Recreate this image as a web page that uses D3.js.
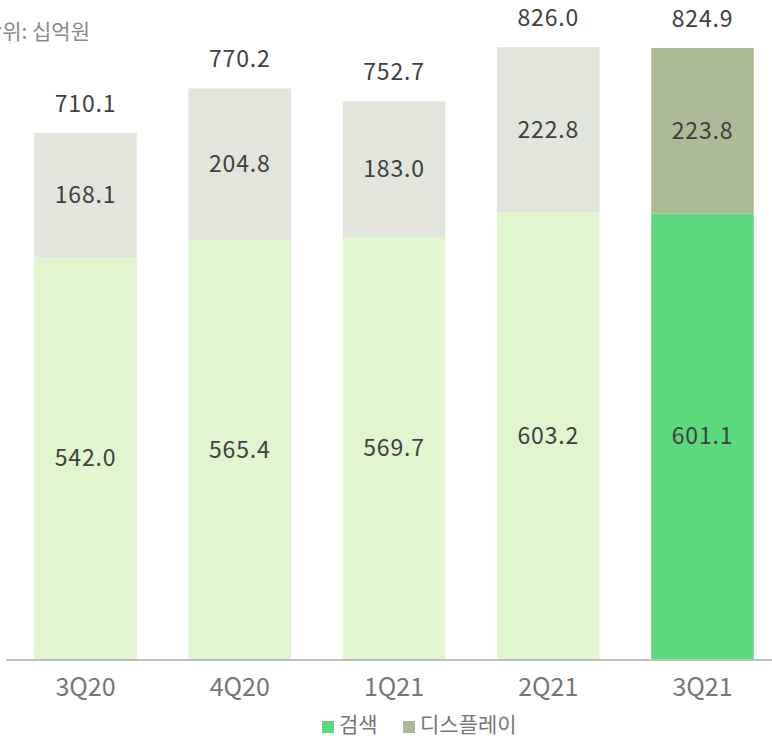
<!DOCTYPE html>
<html>
<head>
<meta charset="utf-8">
<script src="https://cdn.jsdelivr.net/npm/d3@7"></script>
<style>
  body { margin: 0; background: #fff; }
  svg { display: block; font-family: "Noto Sans CJK KR", "Noto Sans", sans-serif; }
</style>
</head>
<body>
<svg id="drawing_region"></svg>
<script>
const quarters = [ '3Q20', '4Q20', '1Q21', '2Q21', '3Q21' ];
const search = [ 542.0, 565.4, 569.7, 603.2, 601.1 ];
const display = [ 168.1, 204.8, 183.0, 222.8, 223.8 ];
const totals = [ 710.1, 770.2, 752.7, 826.0, 824.9 ];
const legendNames = [ '검색', '디스플레이' ];

const width = 772, height = 739;
const baseY = 659;

const svg = d3.select( '#drawing_region' )
    .attr( 'width', width )
    .attr( 'height', height );

const x = d3.scaleBand()
    .domain( quarters )
    .range( [ 8, 780 ] )
    .paddingInner( 0.335 )
    .paddingOuter( 0.17 );

const y = d3.scaleLinear()
    .domain( [ 0, 889.6 ] )
    .range( [ baseY, 0 ] );

const data = quarters.map( ( q, i ) => ( { q: q, search: search[i], display: display[i], total: totals[i], last: i === quarters.length - 1 } ) );

// bars
const g = svg.append( 'g' );
g.selectAll( '.search' )
    .data( data )
    .enter()
    .append( 'rect' )
    .attr( 'x', d => x( d.q ) )
    .attr( 'width', x.bandwidth() )
    .attr( 'y', d => y( d.search ) )
    .attr( 'height', d => baseY - y( d.search ) )
    .attr( 'fill', d => d.last ? '#5cd97d' : '#e1f5cf' );

g.selectAll( '.display' )
    .data( data )
    .enter()
    .append( 'rect' )
    .attr( 'x', d => x( d.q ) )
    .attr( 'width', x.bandwidth() )
    .attr( 'y', d => y( d.search + d.display ) )
    .attr( 'height', d => y( d.search ) - y( d.search + d.display ) )
    .attr( 'fill', d => d.last ? '#adba97' : '#e2e5dc' );

// value labels
const lab = svg.append( 'g' )
    .attr( 'font-size', 23 )
    .attr( 'letter-spacing', 0.8 )
    .attr( 'fill', '#404040' )
    .attr( 'text-anchor', 'middle' );

lab.selectAll( '.sl' )
    .data( data )
    .enter()
    .append( 'text' )
    .attr( 'x', d => x( d.q ) + x.bandwidth() / 2 )
    .attr( 'y', d => ( y( 0 ) + y( d.search ) ) / 2 )
    .attr( 'dy', '0.35em' )
    .text( d => d.search.toFixed( 1 ) );

lab.selectAll( '.dl' )
    .data( data )
    .enter()
    .append( 'text' )
    .attr( 'x', d => x( d.q ) + x.bandwidth() / 2 )
    .attr( 'y', d => ( y( d.search ) + y( d.search + d.display ) ) / 2 )
    .attr( 'dy', '0.35em' )
    .text( d => d.display.toFixed( 1 ) );

lab.selectAll( '.tl' )
    .data( data )
    .enter()
    .append( 'text' )
    .attr( 'x', d => x( d.q ) + x.bandwidth() / 2 )
    .attr( 'y', d => y( d.total ) - 29 )
    .attr( 'dy', '0.35em' )
    .text( d => d.total.toFixed( 1 ) );

// x axis
const axis = svg.append( 'g' )
    .attr( 'transform', `translate(0, ${baseY})` )
    .call( d3.axisBottom( x ).tickSize( 0 ).tickPadding( 19 ) );
axis.select( '.domain' ).remove();
axis.append( 'line' )
    .attr( 'x1', 6 ).attr( 'x2', width )
    .attr( 'y1', 1 ).attr( 'y2', 1 )
    .attr( 'stroke', '#bfbfbf' )
    .attr( 'stroke-width', 2 );
axis.selectAll( 'text' )
    .attr( 'font-family', '"Noto Sans CJK KR", "Noto Sans", sans-serif' )
    .attr( 'font-size', 25 )
    .attr( 'fill', '#767676' );

// unit label (clipped at left edge, as in the source)
svg.append( 'text' )
    .attr( 'x', 90 )
    .attr( 'y', 32 )
    .attr( 'dy', '0.35em' )
    .attr( 'text-anchor', 'end' )
    .attr( 'font-size', 21 )
    .attr( 'fill', '#8a8a8a' )
    .text( '단위: 십억원' );

// legend
const legendColors = [ '#5cd97d', '#adba97' ];
const legendX = [ 322, 403 ];
const leg = svg.append( 'g' );
leg.selectAll( 'rect' )
    .data( legendNames )
    .enter()
    .append( 'rect' )
    .attr( 'x', ( d, i ) => legendX[i] )
    .attr( 'y', 721 )
    .attr( 'width', 12 )
    .attr( 'height', 12 )
    .attr( 'fill', ( d, i ) => legendColors[i] );
leg.selectAll( 'text' )
    .data( legendNames )
    .enter()
    .append( 'text' )
    .attr( 'x', ( d, i ) => legendX[i] + 17 )
    .attr( 'y', 725 )
    .attr( 'dy', '0.35em' )
    .attr( 'font-size', 21 )
    .attr( 'fill', '#767676' )
    .text( d => d );
</script>
</body>
</html>
